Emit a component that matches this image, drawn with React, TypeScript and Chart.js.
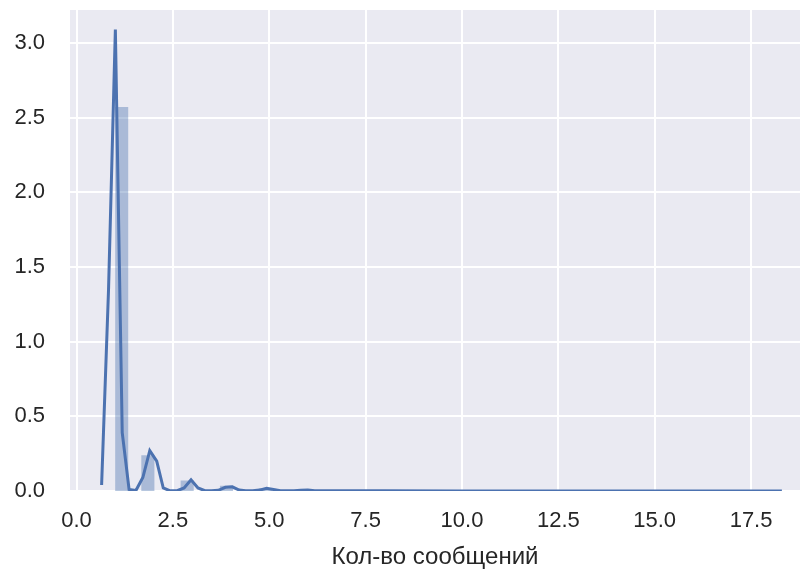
import React, { useEffect, useRef } from "react";
import { Chart, registerables } from "chart.js";

Chart.register(...registerables);

// KDE curve (x grid and density values)
const kdeX = [0.65, 0.83, 1.007, 1.185, 1.363, 1.54, 1.72, 1.90, 2.08, 2.25, 2.43, 2.61, 2.79, 2.97, 3.15, 3.33, 3.50, 3.68, 3.86, 4.04, 4.22, 4.39, 4.57, 4.75, 4.93, 5.11, 5.29, 5.46, 5.64, 5.82, 6.00, 6.18, 6.36, 7.0, 8.0, 10.0, 14.0, 18.3];
const kdeY = [0.04, 1.35, 3.09, 0.39, 0.01, 0.003, 0.09, 0.27, 0.20, 0.02, 0.001, 0.002, 0.02, 0.075, 0.02, 0.002, 0.001, 0.005, 0.025, 0.028, 0.006, 0.001, 0.001, 0.006, 0.018, 0.01, 0.002, 0.001, 0.001, 0.005, 0.007, 0.002, 0.001, 0.001, 0.001, 0.0005, 0.0005, 0.0005];

// Histogram bins (left edge, right edge) and density heights
const binLo = [1.0, 1.68, 2.70, 3.72, 4.74, 5.76];
const binHi = [1.34, 2.02, 3.04, 4.06, 5.08, 6.10];
const binH = [2.57, 0.24, 0.07, 0.035, 0.02, 0.008];

const xTicks = [0, 2.5, 5, 7.5, 10, 12.5, 15, 17.5];
const yTicks = [0, 0.5, 1, 1.5, 2, 2.5, 3];
const xLabel = "Кол-во сообщений";

const FONT = "'Liberation Sans', Arial, sans-serif";
const TEXT = "#262626";
const BLUE = "#4C72B0";

export default function App() {
  const ref = useRef<HTMLCanvasElement | null>(null);
  useEffect(() => {
    if (!ref.current) return;
    const kdeData = kdeX.map((x, i) => ({ x, y: kdeY[i] }));
    const histData: { x: number; y: number }[] = [];
    binLo.forEach((lo, i) => {
      histData.push({ x: lo, y: 0 }, { x: lo, y: binH[i] }, { x: binHi[i], y: binH[i] }, { x: binHi[i], y: 0 });
    });
    const bgPlugin = {
      id: "bg",
      beforeDraw(chart: any) {
        const { ctx, chartArea } = chart;
        ctx.save();
        ctx.fillStyle = "#EAEAF2";
        ctx.fillRect(chartArea.left, chartArea.top, chartArea.right - chartArea.left, chartArea.bottom - chartArea.top);
        ctx.restore();
      },
    };
    const chart = new Chart(ref.current, {
      type: "line",
      data: {
        datasets: [
          {
            data: kdeData,
            borderColor: BLUE,
            borderWidth: 3,
            pointRadius: 0,
            tension: 0,
            fill: false,
            clip: 0,
          } as any,
          {
            data: histData,
            borderWidth: 0,
            borderColor: "rgba(0,0,0,0)",
            backgroundColor: "rgba(76,114,176,0.4)",
            pointRadius: 0,
            tension: 0,
            fill: "origin",
            clip: 0,
          } as any,
        ],
      },
      options: {
        animation: false,
        responsive: false,
        events: [],
        layout: { padding: { left: 0, top: 10, right: 3, bottom: 0 } },
        plugins: { legend: { display: false }, tooltip: { enabled: false } },
        scales: {
          x: {
            type: "linear",
            min: -0.17,
            max: 18.77,
            afterBuildTicks: (s: any) => {
              s.ticks = xTicks.map((v) => ({ value: v }));
            },
            afterFit: (s: any) => {
              s.height = 79;
              s.paddingLeft = 0;
              s.paddingRight = 0;
            },
            grid: { color: "#ffffff", lineWidth: 2, drawTicks: false },
            border: { display: false },
            ticks: {
              color: TEXT,
              font: { family: FONT, size: 22 },
              padding: 17,
              maxRotation: 0,
              autoSkip: false,
              callback: (v: any) => Number(v).toFixed(1),
            },
            title: {
              display: true,
              text: xLabel,
              color: TEXT,
              font: { family: FONT, size: 24, lineHeight: 1 },
              padding: { top: 0, bottom: 1 },
            },
          },
          y: {
            type: "linear",
            min: 0,
            max: 3.22,
            afterBuildTicks: (s: any) => {
              s.ticks = yTicks.map((v) => ({ value: v }));
            },
            afterFit: (s: any) => {
              s.width = 70;
              s.paddingTop = 0;
              s.paddingBottom = 0;
            },
            grid: { color: "#ffffff", lineWidth: 2, drawTicks: false },
            border: { display: false },
            ticks: {
              color: TEXT,
              font: { family: FONT, size: 22 },
              padding: 25,
              autoSkip: false,
              callback: (v: any) => Number(v).toFixed(1),
            },
          },
        },
      },
      plugins: [bgPlugin],
    });
    return () => chart.destroy();
  }, []);
  return (
    <div style={{ position: "absolute", left: 0, top: 0, width: 803, height: 570, background: "#fff" }}>
      <canvas ref={ref} width={803} height={570} style={{ display: "block", width: 803, height: 570 }} />
    </div>
  );
}
